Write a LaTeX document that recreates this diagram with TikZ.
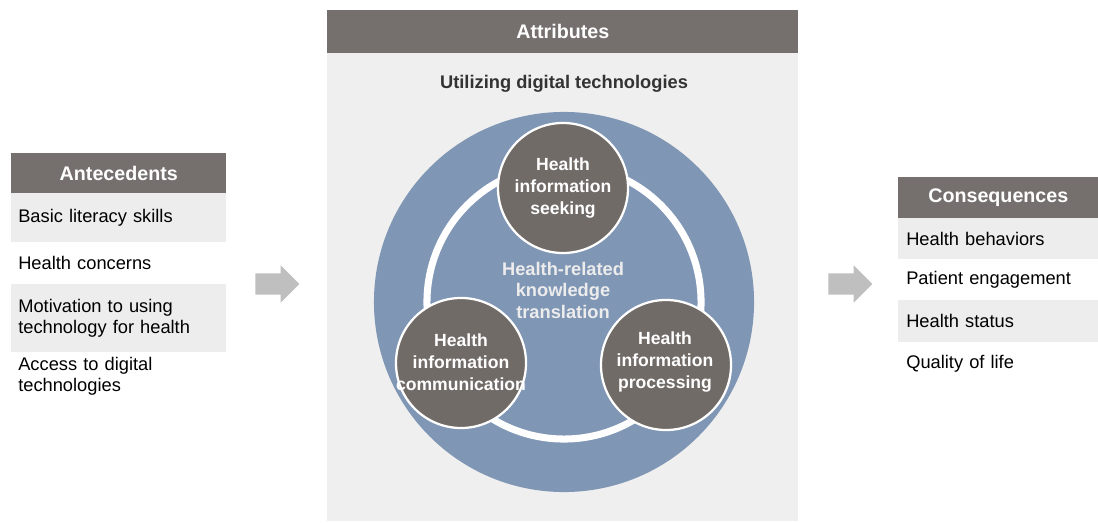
\documentclass[tikz,border=0pt]{standalone}
\usepackage{fontspec}
\setmainfont{Liberation Sans}
\usetikzlibrary{shapes.arrows}
\definecolor{hdrgray}{RGB}{117,112,110}
\definecolor{cirgray}{RGB}{113,107,104}
\definecolor{ringblue}{RGB}{128,150,181}
\definecolor{panelgray}{RGB}{239,239,239}
\definecolor{rowgray}{RGB}{237,237,237}
\definecolor{arrowgray}{RGB}{191,191,191}
\definecolor{softwhite}{RGB}{236,236,236}
\tikzset{
  hdr/.style={anchor=north west,fill=hdrgray,text=white,inner sep=0pt,
    font=\fontsize{14}{16}\selectfont\bfseries},
  row/.style={anchor=north west,inner xsep=0.175cm,inner ysep=0pt,text width=5.025cm,
    align=left,font=\fontsize{13}{15}\selectfont},
  rowR/.style={row,inner xsep=0.2cm,text width=4.6cm},
  topic/.style={circle,fill=cirgray,draw=white,line width=1.6pt,minimum size=3.25cm,inner sep=0pt},
  topictxt/.style={align=center,text=white,inner sep=0pt,
    font=\fontsize{12.5}{15.6}\selectfont\bfseries},
  blockarrow/.style={single arrow,fill=arrowgray,inner xsep=0pt,inner ysep=0.26cm,
    minimum height=1.1cm,single arrow head extend=0.2cm}
}
\begin{document}
\begin{tikzpicture}[x=0.025cm,y=-0.025cm]
\useasboundingbox (0,0) rectangle (1098,523);

\node(antehdr) at (11,153)[hdr,minimum width=5.375cm,minimum height=1cm]{Antecedents};
\node(ante1) at (11,193)[row,fill=rowgray,minimum height=1.225cm]{Basic literacy skills};
\node(ante2) at (11,242)[row,minimum height=1.05cm]{Health concerns};
\node(ante3) at (11,284)[row,fill=rowgray,minimum height=1.7cm]{Motivation to using\\technology for health};
\node(ante4) at (11,352)[row,minimum height=1.2cm]{Access to digital\\technologies};

\node(attr) at (327,10)[anchor=north west,fill=panelgray,inner sep=0pt,
  minimum width=11.775cm,minimum height=12.775cm]{};
\node(attrhdr) at (327,10)[hdr,minimum width=11.775cm,minimum height=1.075cm]{Attributes};
\node(digital) at (564,84)[font=\fontsize{13}{15}\selectfont\bfseries,text=black!80]
  {Utilizing digital technologies};

\node(outer) at (564,302)[circle,fill=ringblue,minimum size=9.5cm,inner sep=0pt]{};
\node(ring) at (564,302)[circle,draw=white,line width=5pt,minimum size=6.85cm]{};
\node(core) at (563,290)[topictxt,text=softwhite,font=\fontsize{13}{15.3}\selectfont\bfseries]
  {Health-related\\knowledge\\translation};

\node(seek) at (563,188)[topic]{};
\node(comm) at (461,363)[topic]{};
\node(proc) at (666,365)[topic]{};
\node(seektxt) at (seek)[topictxt]{Health\\information\\seeking};
\node(commtxt) at (461,362)[topictxt]{Health\\information\\communication};
\node(proctxt) at (665,362)[topictxt]{Health\\information\\processing};

\node(conshdr) at (898,177)[hdr,minimum width=5cm,minimum height=1.025cm]{Consequences};
\node(cons1) at (898,218)[rowR,fill=rowgray,minimum height=1.025cm]{Health behaviors};
\node(cons2) at (898,259)[rowR,minimum height=1.025cm]{Patient engagement};
\node(cons3) at (898,300)[rowR,fill=rowgray,minimum height=1.05cm]{Health status};
\node(cons4) at (898,342)[rowR,minimum height=1.075cm]{Quality of life};

\node(arrL) at (272,284)[blockarrow]{};
\node(arrR) at (845,284)[blockarrow]{};

\end{tikzpicture}
\end{document}
